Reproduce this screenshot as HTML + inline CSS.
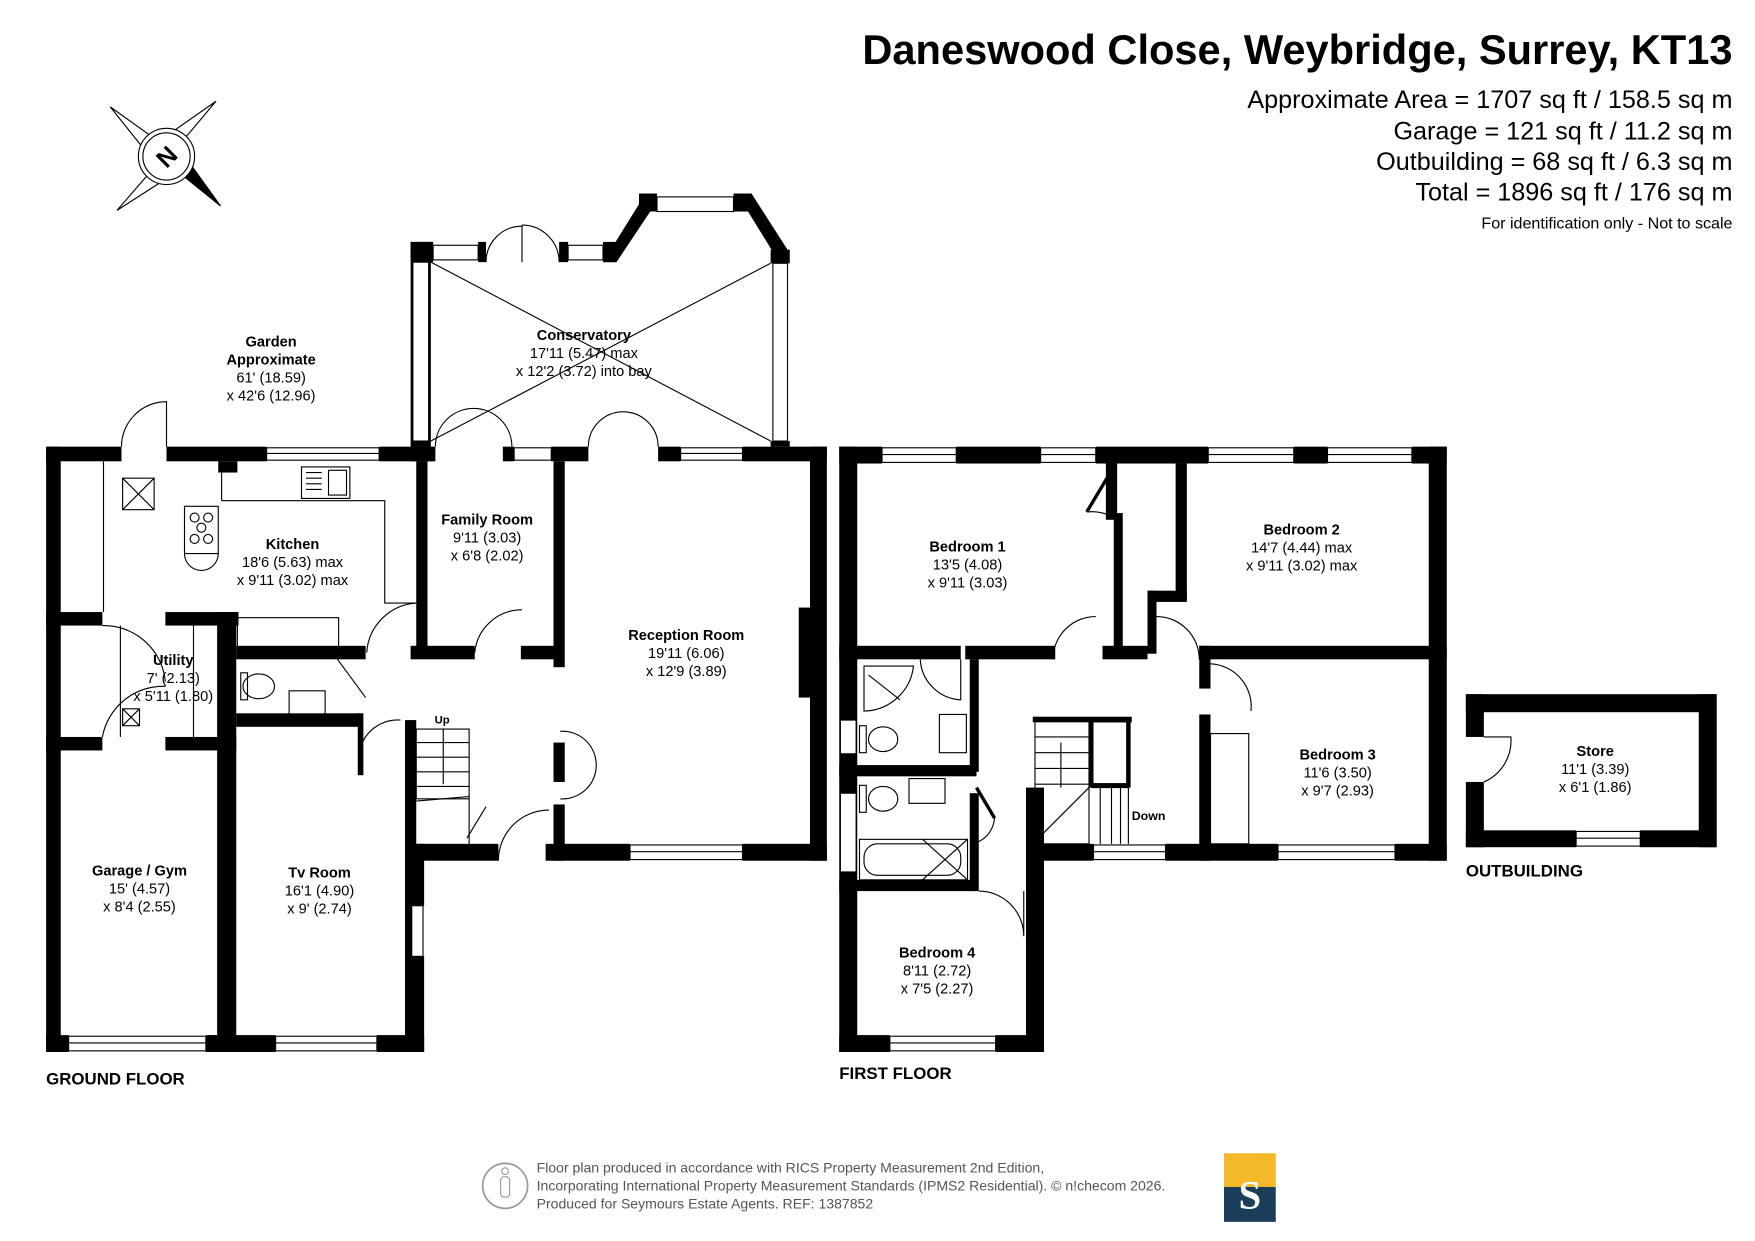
<!DOCTYPE html>
<html><head><meta charset="utf-8"><style>
html,body{margin:0;padding:0;background:#fff}
svg{display:block}
text{font-family:"Liberation Sans",Arial,sans-serif;fill:#000}
.b{font-weight:bold}
</style></head><body>
<svg width="1755" height="1241" viewBox="0 0 1560 1103" preserveAspectRatio="none" xmlns="http://www.w3.org/2000/svg">
<rect width="1560" height="1103" fill="#fff"/>
<text x="1540" y="57" text-anchor="end" class="b" font-size="37">Daneswood Close, Weybridge, Surrey, KT13</text>
<text x="1540" y="96" text-anchor="end" font-size="22.4">Approximate Area = 1707 sq ft / 158.5 sq m</text>
<text x="1540" y="124" text-anchor="end" font-size="22.4">Garage = 121 sq ft / 11.2 sq m</text>
<text x="1540" y="151" text-anchor="end" font-size="22.4">Outbuilding = 68 sq ft / 6.3 sq m</text>
<text x="1540" y="178" text-anchor="end" font-size="22.4">Total = 1896 sq ft / 176 sq m</text>
<text x="1540" y="203" text-anchor="end" font-size="14.3">For identification only - Not to scale</text>

<g stroke="#000" stroke-width="1" fill="#fff">
<polygon points="98,95 140,125 130,135"/>
<polygon points="192,90 160,128 152,118"/>
<polygon points="104,187 136,150 146,160"/>
<polygon points="196,183 155,150 165,140" fill="#000"/>
<circle cx="148" cy="139" r="25"/>
<circle cx="148" cy="139" r="21"/>
</g>
<text x="148" y="147" text-anchor="middle" class="b" font-size="22" transform="rotate(-45 148 139)">N</text>

<g fill="#000">
<rect x="41" y="397" width="13" height="538"/>
<rect x="41" y="397" width="67" height="13"/>
<rect x="148" y="397" width="89" height="13"/>
<rect x="337" y="397" width="48" height="13"/>
<rect x="194" y="410" width="17" height="10"/>
<rect x="365" y="215" width="18" height="182"/>
<rect x="365" y="215" width="20" height="18"/>
<rect x="425" y="215" width="7" height="18"/>
<rect x="497" y="215" width="8" height="18"/>
<rect x="536" y="215" width="12" height="18"/>
<polygon points="536,233 548,233 580,185 572,175"/>
<rect x="568" y="172" width="16" height="16"/>
<rect x="652" y="172" width="16" height="16"/>
<polygon points="660,180 668,172 702,225 692,232"/>
<rect x="685" y="222" width="17" height="12"/>
<rect x="685" y="392" width="17" height="5"/>
<rect x="365" y="397" width="22" height="13"/>
<rect x="447" y="397" width="10" height="13"/>
<rect x="490" y="397" width="33" height="13"/>
<rect x="585" y="397" width="20" height="13"/>
<rect x="660" y="397" width="75" height="13"/>
<rect x="720" y="397" width="15" height="368"/>
<rect x="710" y="540" width="12" height="80"/>
<rect x="485" y="750" width="75" height="15"/>
<rect x="660" y="750" width="75" height="15"/>
<rect x="492" y="410" width="10" height="183"/>
<rect x="492" y="660" width="10" height="35"/>
<rect x="492" y="715" width="10" height="50"/>
<rect x="370" y="410" width="10" height="172"/>
<rect x="365" y="574" width="57" height="12"/>
<rect x="463" y="574" width="35" height="12"/>
<rect x="41" y="544" width="50" height="12"/>
<rect x="147" y="544" width="65" height="12"/>
<rect x="193" y="544" width="17" height="391"/>
<rect x="41" y="655" width="50" height="12"/>
<rect x="147" y="655" width="63" height="12"/>
<rect x="210" y="574" width="115" height="12"/>
<rect x="210" y="634" width="110" height="12"/>
<rect x="318" y="634" width="5" height="55"/>
<rect x="360" y="640" width="10" height="295"/>
<rect x="360" y="750" width="83" height="15"/>
<rect x="365" y="750" width="12" height="55"/>
<rect x="365" y="850" width="12" height="85"/>
<rect x="185" y="920" width="60" height="15"/>
<rect x="335" y="920" width="42" height="15"/>
<rect x="41" y="920" width="20" height="15"/>
<rect x="183" y="920" width="12" height="15"/>
</g>
<g fill="#fff" stroke="#000" stroke-width="1">
<rect x="237" y="398" width="100" height="11"/>
<line x1="237" y1="403" x2="337" y2="403"/>
<rect x="457" y="398" width="33" height="11"/>
<rect x="605" y="398" width="55" height="11"/>
<line x1="605" y1="403" x2="660" y2="403"/>
<rect x="560" y="751" width="100" height="13"/>
<line x1="560" y1="757" x2="660" y2="757"/>
<rect x="245" y="921" width="90" height="13"/>
<line x1="245" y1="927" x2="335" y2="927"/>
<rect x="61" y="921" width="122" height="13"/>
<line x1="61" y1="927" x2="183" y2="927"/>
<rect x="366" y="805" width="10" height="45"/>
<rect x="385" y="218" width="40" height="13"/>
<rect x="505" y="218" width="31" height="13"/>
<rect x="584" y="175" width="68" height="13"/>
<rect x="367" y="233" width="14" height="159"/>
<rect x="687" y="234" width="13" height="158"/>
</g>
<g fill="none" stroke="#000" stroke-width="1">
<line x1="383" y1="233" x2="685" y2="392"/>
<line x1="383" y1="392" x2="685" y2="234"/>
<path d="M432,233 A32,32 0 0 1 464,201 M497,233 A33,33 0 0 0 464,200"/>
<line x1="464" y1="200" x2="464" y2="233"/>
<path d="M387,397 A34,34 0 0 1 421,363 M455,397 A34,34 0 0 0 421,363"/>
<path d="M523,397 A31,31 0 0 1 554,366 M585,397 A31,31 0 0 0 554,366"/>
<path d="M108,397 A40,40 0 0 1 148,357 L148,397"/>
<path d="M91,556 A55,55 0 0 1 147,606"/>
<path d="M91,655 A55,55 0 0 1 147,610"/>
<path d="M326,580 A47,47 0 0 1 370,536"/>
<path d="M422,580 A42,42 0 0 1 464,542"/>
<path d="M498,650 A30,30 0 0 1 530,680 M498,710 A30,30 0 0 0 530,680"/>
<path d="M443,765 A45,45 0 0 1 488,720 M322,660 A35,35 0 0 1 356,640"/>
<line x1="300" y1="586" x2="325" y2="620"/>
<line x1="415" y1="745" x2="432" y2="717"/>
<line x1="92" y1="410" x2="92" y2="544"/>
<line x1="197" y1="410" x2="197" y2="445"/>
<polyline points="197,445 342,445 342,536 370,536"/>
<rect x="211" y="549" width="90" height="30"/>
<rect x="109" y="425" width="28" height="28"/>
<path d="M109,425 L137,453 M137,425 L109,453"/>
<rect x="164" y="450" width="30" height="42"/>
<path d="M164,492 A15,15 0 0 0 194,492"/>
<circle cx="173" cy="460" r="4"/><circle cx="185" cy="460" r="4"/><circle cx="179" cy="469" r="4"/><circle cx="173" cy="479" r="4"/><circle cx="185" cy="479" r="4"/>
<rect x="268" y="415" width="43" height="28"/>
<line x1="272" y1="420" x2="286" y2="420"/><line x1="272" y1="425" x2="286" y2="425"/><line x1="272" y1="430" x2="286" y2="430"/><line x1="272" y1="435" x2="286" y2="435"/>
<rect x="292" y="418" width="16" height="22"/>
<line x1="107" y1="556" x2="107" y2="655"/>
<line x1="172" y1="556" x2="172" y2="655"/>
<rect x="109" y="630" width="15" height="15"/>
<path d="M109,630 L124,645 M124,630 L109,645"/>
<ellipse cx="230" cy="610" rx="14" ry="11"/>
<rect x="214" y="598" width="6" height="24"/>
<rect x="257" y="614" width="32" height="22"/>
<rect x="370" y="648" width="47" height="62"/>
<line x1="370" y1="660" x2="417" y2="660"/><line x1="370" y1="673" x2="417" y2="673"/><line x1="370" y1="686" x2="417" y2="686"/><line x1="370" y1="699" x2="417" y2="699"/>
<line x1="394" y1="648" x2="394" y2="697"/>
<line x1="370" y1="712" x2="417" y2="708"/>
<line x1="417" y1="710" x2="417" y2="750"/>
</g>

<g fill="#000">
<rect x="746" y="397" width="16" height="538"/>
<rect x="746" y="397" width="38" height="15"/>
<rect x="850" y="397" width="75" height="15"/>
<rect x="974" y="397" width="100" height="15"/>
<rect x="1150" y="397" width="30" height="15"/>
<rect x="1255" y="397" width="31" height="15"/>
<rect x="1270" y="397" width="16" height="368"/>
<rect x="983" y="412" width="10" height="50"/>
<rect x="990" y="456" width="8" height="125"/>
<rect x="1045" y="412" width="10" height="120"/>
<rect x="1020" y="525" width="35" height="10"/>
<rect x="1020" y="525" width="8" height="56"/>
<rect x="980" y="574" width="40" height="12"/>
<rect x="1066" y="574" width="220" height="12"/>
<rect x="1066" y="574" width="10" height="38"/>
<rect x="1066" y="635" width="10" height="130"/>
<rect x="746" y="574" width="108" height="12"/>
<rect x="858" y="574" width="80" height="12"/>
<rect x="862" y="586" width="8" height="100"/>
<rect x="862" y="705" width="8" height="87"/>
<rect x="746" y="680" width="122" height="10"/>
<rect x="746" y="782" width="122" height="10"/>
<rect x="920" y="750" width="52" height="15"/>
<rect x="1036" y="750" width="100" height="15"/>
<rect x="1240" y="750" width="46" height="15"/>
<rect x="912" y="700" width="16" height="235"/>
<rect x="746" y="920" width="45" height="15"/>
<rect x="885" y="920" width="43" height="15"/>
<rect x="918" y="637" width="88" height="5"/>
</g>
<g fill="#fff" stroke="#000" stroke-width="1">
<rect x="784" y="398" width="66" height="13"/><line x1="784" y1="404" x2="850" y2="404"/>
<rect x="925" y="398" width="49" height="13"/><line x1="925" y1="404" x2="974" y2="404"/>
<rect x="1074" y="398" width="76" height="13"/><line x1="1074" y1="404" x2="1150" y2="404"/>
<rect x="1180" y="398" width="75" height="13"/><line x1="1180" y1="404" x2="1255" y2="404"/>
<rect x="972" y="751" width="64" height="13"/><line x1="972" y1="757" x2="1036" y2="757"/>
<rect x="1136" y="751" width="104" height="13"/><line x1="1136" y1="757" x2="1240" y2="757"/>
<rect x="791" y="921" width="94" height="13"/><line x1="791" y1="927" x2="885" y2="927"/>
<rect x="747" y="640" width="14" height="30"/>
<rect x="747" y="705" width="14" height="70"/>
</g>
<g fill="none" stroke="#000" stroke-width="1">
<path d="M966,455 A40,40 0 0 1 993,462"/>
<line x1="966" y1="455" x2="987" y2="420" stroke-width="3"/>
<path d="M936,586 A38,38 0 0 1 974,548"/>
<path d="M1028,548 A38,38 0 0 1 1066,586"/>
<path d="M1076,590 A38,38 0 0 1 1112,632"/>
<path d="M818,586 A38,38 0 0 0 854,622 L854,586"/>
<path d="M768,592 L812,592 A45,45 0 0 1 768,632 Z"/>
<line x1="772" y1="600" x2="800" y2="622"/>
<ellipse cx="785" cy="657" rx="13" ry="11"/><rect x="764" y="645" width="6" height="24"/>
<rect x="835" y="635" width="24" height="34"/>
<ellipse cx="785" cy="710" rx="13" ry="11"/><rect x="764" y="698" width="6" height="24"/>
<rect x="808" y="692" width="32" height="22"/>
<rect x="764" y="746" width="96" height="36"/>
<rect x="768" y="750" width="86" height="28" rx="12"/>
<line x1="820" y1="746" x2="860" y2="782"/><line x1="860" y1="746" x2="820" y2="782"/>
<line x1="868" y1="700" x2="884" y2="727" stroke-width="3"/>
<path d="M870,748 A25,25 0 0 0 884,727"/>
<path d="M870,792 A40,40 0 0 1 910,832 L910,792"/>
<rect x="920" y="640" width="48" height="110"/>
<rect x="970" y="640" width="33" height="58" stroke-width="4"/>
<line x1="920" y1="655" x2="968" y2="655"/><line x1="920" y1="669" x2="968" y2="669"/><line x1="920" y1="683" x2="968" y2="683"/><line x1="920" y1="697" x2="968" y2="697"/>
<line x1="970" y1="700" x2="1003" y2="700"/>
<line x1="920" y1="748" x2="968" y2="700"/>
<line x1="978" y1="700" x2="978" y2="750"/><line x1="988" y1="700" x2="988" y2="750"/><line x1="996" y1="700" x2="996" y2="750"/><line x1="1003" y1="700" x2="1003" y2="750"/>
<line x1="943" y1="700" x2="943" y2="660"/>
<rect x="1076" y="652" width="34" height="98"/>
</g>

<g fill="#000">
<rect x="1303" y="617" width="222" height="16"/>
<rect x="1303" y="617" width="16" height="38"/>
<rect x="1303" y="695" width="16" height="58"/>
<rect x="1510" y="617" width="16" height="136"/>
<rect x="1303" y="738" width="98" height="15"/>
<rect x="1458" y="738" width="67" height="15"/>
</g>
<g fill="none" stroke="#000" stroke-width="1">
<rect x="1401" y="739" width="57" height="13" fill="#fff"/><line x1="1401" y1="745" x2="1458" y2="745"/>
<path d="M1319,655 L1343,655 A40,40 0 0 1 1319,695"/>
</g>

<g font-size="13" text-anchor="middle">
<text x="241" y="308" class="b">Garden</text>
<text x="241" y="324" class="b">Approximate</text>
<text x="241" y="340">61' (18.59)</text>
<text x="241" y="356">x 42'6 (12.96)</text>
<text x="519" y="302" class="b">Conservatory</text>
<text x="519" y="318">17'11 (5.47) max</text>
<text x="519" y="334">x 12'2 (3.72) into bay</text>
<text x="260" y="488" class="b">Kitchen</text>
<text x="260" y="504">18'6 (5.63) max</text>
<text x="260" y="520">x 9'11 (3.02) max</text>
<text x="433" y="466" class="b">Family Room</text>
<text x="433" y="482">9'11 (3.03)</text>
<text x="433" y="498">x 6'8 (2.02)</text>
<text x="610" y="569" class="b">Reception Room</text>
<text x="610" y="585">19'11 (6.06)</text>
<text x="610" y="601">x 12'9 (3.89)</text>
<text x="154" y="591" class="b">Utility</text>
<text x="154" y="607">7' (2.13)</text>
<text x="154" y="623">x 5'11 (1.80)</text>
<text x="124" y="778" class="b">Garage / Gym</text>
<text x="124" y="794">15' (4.57)</text>
<text x="124" y="810">x 8'4 (2.55)</text>
<text x="284" y="780" class="b">Tv Room</text>
<text x="284" y="796">16'1 (4.90)</text>
<text x="284" y="812">x 9' (2.74)</text>
<text x="393" y="643" class="b" font-size="10">Up</text>
<text x="860" y="490" class="b">Bedroom 1</text>
<text x="860" y="506">13'5 (4.08)</text>
<text x="860" y="522">x 9'11 (3.03)</text>
<text x="1157" y="475" class="b">Bedroom 2</text>
<text x="1157" y="491">14'7 (4.44) max</text>
<text x="1157" y="507">x 9'11 (3.02) max</text>
<text x="1189" y="675" class="b">Bedroom 3</text>
<text x="1189" y="691">11'6 (3.50)</text>
<text x="1189" y="707">x 9'7 (2.93)</text>
<text x="833" y="851" class="b">Bedroom 4</text>
<text x="833" y="867">8'11 (2.72)</text>
<text x="833" y="883">x 7'5 (2.27)</text>
<text x="1418" y="672" class="b">Store</text>
<text x="1418" y="688">11'1 (3.39)</text>
<text x="1418" y="704">x 6'1 (1.86)</text>
</g>
<text x="1006" y="729" class="b" font-size="11">Down</text>
<text x="41" y="964" class="b" font-size="15">GROUND FLOOR</text>
<text x="746" y="959" class="b" font-size="15">FIRST FLOOR</text>
<text x="1303" y="779" class="b" font-size="15">OUTBUILDING</text>

<circle cx="449" cy="1054" r="20" fill="none" stroke="#999" stroke-width="1.5"/>
<rect x="445" y="1046" width="8" height="18" rx="3" fill="none" stroke="#999"/>
<circle cx="449" cy="1041" r="3" fill="none" stroke="#999"/>
<g font-size="12.5">
<text x="477" y="1042" style="fill:#555">Floor plan produced in accordance with RICS Property Measurement 2nd Edition,</text>
<text x="477" y="1058" style="fill:#555">Incorporating International Property Measurement Standards (IPMS2 Residential).  © n!checom 2026.</text>
<text x="477" y="1074" style="fill:#555">Produced for Seymours Estate Agents.   REF: 1387852</text>
</g>
<rect x="1088" y="1025" width="46" height="30" fill="#f4b82b"/>
<rect x="1088" y="1055" width="46" height="31" fill="#1d3e5a"/>
<text x="1111" y="1074" text-anchor="middle" font-size="36" class="b" style="fill:#fff;font-family:'Liberation Serif',serif">S</text>
</svg>
</body></html>
